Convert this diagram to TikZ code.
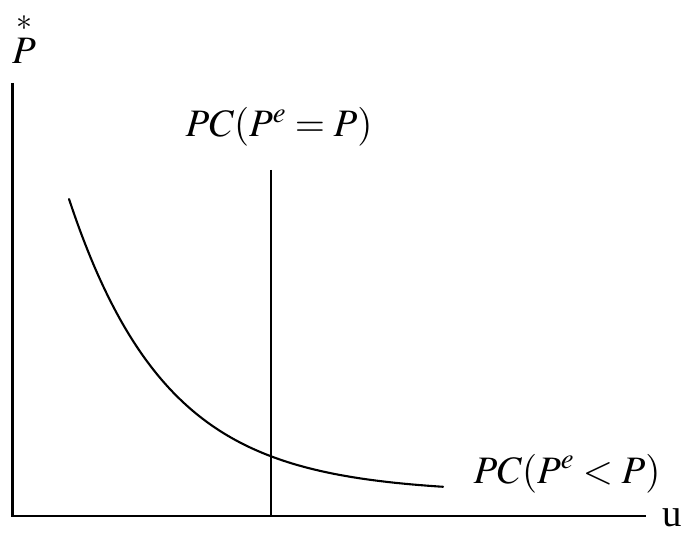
\documentclass[tikz,border=0pt]{standalone}
\usepackage{mathptmx}
\usepackage{fontspec}
\setmainfont{Liberation Serif}
\usepackage{tikz}
\usetikzlibrary{positioning}
\tikzset{
  axis/.style={line width=2.4bp},
  pcline/.style={line width=2.1bp},
  lbl/.style={font=\fontsize{39}{41}\selectfont, inner sep=0pt},
}

\begin{document}
\begin{tikzpicture}[x=1bp,y=-1bp]
\useasboundingbox (0,0) rectangle (686,535);
\coordinate (o) at (12.5,516);
\coordinate (ytop) at (12.5,83);
\coordinate (xend) at (646,516);
\draw[axis] (ytop) -- (o) -- (xend);
\node[lbl, anchor=base] (ylab) at (24,64) {$P$};
\node[font=\fontsize{32}{32}\selectfont, inner sep=0pt] (star) at (24,23) {$*$};
\node[lbl, anchor=base] (xlab) at (672,526) {u};
% long-run curve
\coordinate (lrtop) at (271,170);
\coordinate (lrbot) at (271,516);
\draw[pcline] (lrtop) -- (lrbot);
\node[lbl, anchor=base] (lrlab) at (279,137) {$PC(P^e = P)$};
% short-run curve
\draw[pcline, line cap=round] plot[domain=69:443, samples=80, smooth] (\x, {493 - 294*exp(-0.0103*(\x-69))});
\node[lbl, anchor=base] (srlab) at (567,483) {$PC(P^e < P)$};
\end{tikzpicture}
\end{document}
